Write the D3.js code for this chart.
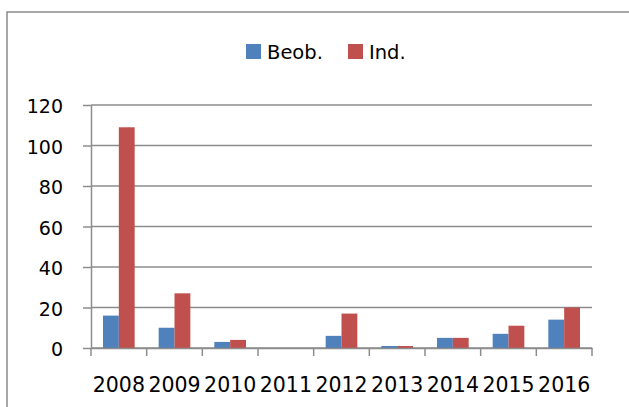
<!DOCTYPE html>
<html>
<head>
<meta charset="utf-8">
<script src="https://cdn.jsdelivr.net/npm/d3@7"></script>
<style>
  body { margin: 0; background: #fff; }
  text { font-family: "DejaVu Sans", sans-serif; fill: #000; }
</style>
</head>
<body>
<div id="chart"></div>
<script>
const WIDTH = 629;
const HEIGHT = 407;
const LEFT = 91;
const RIGHT = 592;
const TOP = 105;
const BOTTOM = 348;

const years = ['2008', '2009', '2010', '2011', '2012', '2013', '2014', '2015', '2016'];
const seriesNames = ['Beob.', 'Ind.'];
const beob = [16, 10, 3, 0, 6, 1, 5, 7, 14];
const ind = [109, 27, 4, 0, 17, 1, 5, 11, 20];
const yTicks = [0, 20, 40, 60, 80, 100, 120];
const colors = { 'Beob.': '#4f81bd', 'Ind.': '#c0504d' };

let svg = d3.select('#chart').append('svg')
  .attr('width', WIDTH)
  .attr('height', HEIGHT);

// outer frame (runs off the right and bottom edge)
svg.append('rect')
  .attr('x', 7)
  .attr('y', 12)
  .attr('width', WIDTH + 10)
  .attr('height', HEIGHT + 10)
  .attr('fill', 'none')
  .attr('stroke', '#8a8a8a')
  .attr('stroke-width', 1.5);

let xScale = d3.scaleBand()
  .domain(years)
  .range([LEFT, RIGHT]);

let xInner = d3.scaleBand()
  .domain(seriesNames)
  .range([12, xScale.bandwidth() - 12]);

let yScale = d3.scaleLinear()
  .domain([0, 120])
  .range([BOTTOM, TOP]);

// gridlines
svg.append('g')
  .selectAll('line')
  .data(yTicks)
  .enter()
  .append('line')
  .attr('x1', LEFT)
  .attr('x2', RIGHT)
  .attr('y1', (d) => yScale(d))
  .attr('y2', (d) => yScale(d))
  .attr('stroke', '#8c8c8c')
  .attr('stroke-width', 1.5);

// y axis
let yAxis = d3.axisLeft(yScale)
  .tickValues(yTicks)
  .tickSize(8)
  .tickPadding(20)
  .tickSizeOuter(0);

let yG = svg.append('g')
  .attr('transform', `translate(${LEFT}, 0)`)
  .call(yAxis);
yG.select('.domain').attr('stroke', '#8c8c8c').attr('stroke-width', 1.5);
yG.selectAll('.tick line').attr('stroke', '#8c8c8c').attr('stroke-width', 1.5);
yG.selectAll('.tick text')
  .attr('dy', '0.42em')
  .style('font-size', '19px');

// bars
let rows = years.map((year, i) => ({ year, values: { 'Beob.': beob[i], 'Ind.': ind[i] } }));

svg.append('g')
  .selectAll('g')
  .data(rows)
  .enter()
  .append('g')
  .attr('transform', (d) => `translate(${xScale(d.year)}, 0)`)
  .selectAll('rect')
  .data((d) => seriesNames.map((name) => ({ name, value: d.values[name] })))
  .enter()
  .append('rect')
  .attr('x', (d) => xInner(d.name))
  .attr('width', xInner.bandwidth())
  .attr('y', (d) => yScale(d.value))
  .attr('height', (d) => BOTTOM - yScale(d.value))
  .attr('fill', (d) => colors[d.name]);

// x axis
let xG = svg.append('g')
  .attr('transform', `translate(0, ${BOTTOM})`)
  .call(d3.axisBottom(xScale).tickSize(0).tickPadding(29));
xG.select('.domain').attr('stroke', '#8c8c8c').attr('stroke-width', 1.5);
xG.selectAll('.tick text').style('font-size', '20.5px');

// category boundary ticks
let bounds = years.map((y) => xScale(y)).concat([RIGHT]);
xG.selectAll('.bound')
  .data(bounds)
  .enter()
  .append('line')
  .attr('class', 'bound')
  .attr('x1', (d) => d)
  .attr('x2', (d) => d)
  .attr('y1', 0)
  .attr('y2', 8)
  .attr('stroke', '#8c8c8c')
  .attr('stroke-width', 1.5);

// legend
let legendX = [246, 348];
let legend = svg.append('g')
  .selectAll('g')
  .data(seriesNames)
  .enter()
  .append('g')
  .attr('transform', (d, i) => `translate(${legendX[i]}, 44)`);

legend.append('rect')
  .attr('width', 15)
  .attr('height', 15)
  .attr('fill', (d) => colors[d]);

legend.append('text')
  .attr('x', 21)
  .attr('y', 15)
  .style('font-size', '19.5px')
  .text((d) => d);
</script>
</body>
</html>
